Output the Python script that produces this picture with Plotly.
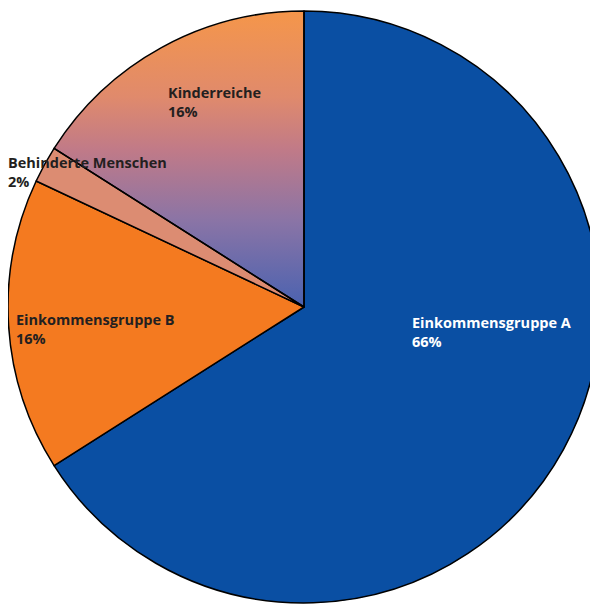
import base64
import plotly.graph_objects as go

# ---- data ----
labels = ["Einkommensgruppe A", "Einkommensgruppe B", "Behinderte Menschen", "Kinderreiche"]
values = [66, 16, 2, 16]
pct_text = ["66%", "16%", "2%", "16%"]

# ---- styles ----
W, H = 598, 606
GRAD_STOPS = [(0.0, "#f5964a"), (0.29, "#e08a6c"), (0.47, "#c07a88"), (0.71, "#8a74a6"), (1.0, "#4a62b0")]
slice_colors = ["#0a4fa3", "#f47a20", "#dc8c72", "rgba(0,0,0,0)"]
text_colors = ["#ffffff", "#231f20", "#231f20", "#231f20"]
# label anchor (left x, vertical middle y) in figure pixels
label_pos = [(402, 324), (6, 321), (-2, 164), (158, 94)]

# pie geometry in figure pixels
cx, cy, r = 296, 299, 296

# gradient disc (style only): orange at top of the pie -> blue at its centre
stops = "".join(f"<stop offset='{o}' stop-color='{c}'/>" for o, c in GRAD_STOPS)
svg = (
    "<svg xmlns='http://www.w3.org/2000/svg' width='200' height='200' viewBox='0 0 200 200' "
    "preserveAspectRatio='none'>"
    f"<defs><linearGradient id='g' x1='0' y1='0' x2='0' y2='0.5'>{stops}</linearGradient></defs>"
    "<circle cx='100' cy='100' r='100' fill='url(#g)'/></svg>"
)
src = "data:image/svg+xml;base64," + base64.b64encode(svg.encode()).decode()

fig = go.Figure(
    go.Pie(
        labels=labels,
        values=values,
        sort=False,
        direction="clockwise",
        rotation=0,
        marker=dict(colors=slice_colors, line=dict(color="#000000", width=1.5)),
        textinfo="none",
        hoverinfo="label+percent",
        domain=dict(x=[(cx - r) / W, min(1, (cx + r) / W)],
                    y=[1 - (cy + r) / H, 1 - (cy - r) / H]),
        showlegend=False,
    )
)

fig.add_layout_image(
    dict(
        source=src,
        xref="paper", yref="paper",
        x=(cx - r) / W, y=1 - (cy - r) / H,
        sizex=2 * r / W, sizey=2 * r / H,
        xanchor="left", yanchor="top",
        sizing="stretch",
        layer="below",
    )
)

for lab, pt, col, (px, py) in zip(labels, pct_text, text_colors, label_pos):
    fig.add_annotation(
        x=px / W, y=1 - py / H, xref="paper", yref="paper",
        xanchor="left", yanchor="middle", align="left",
        text=f"<b>{lab}<br>{pt}</b>", showarrow=False,
        font=dict(family="Open Sans, Noto Sans, sans-serif", size=14.5, color=col),
    )

fig.update_layout(
    width=W, height=H,
    margin=dict(l=0, r=0, t=0, b=0),
    paper_bgcolor="white",
    plot_bgcolor="white",
)

fig.write_html("out.html")
